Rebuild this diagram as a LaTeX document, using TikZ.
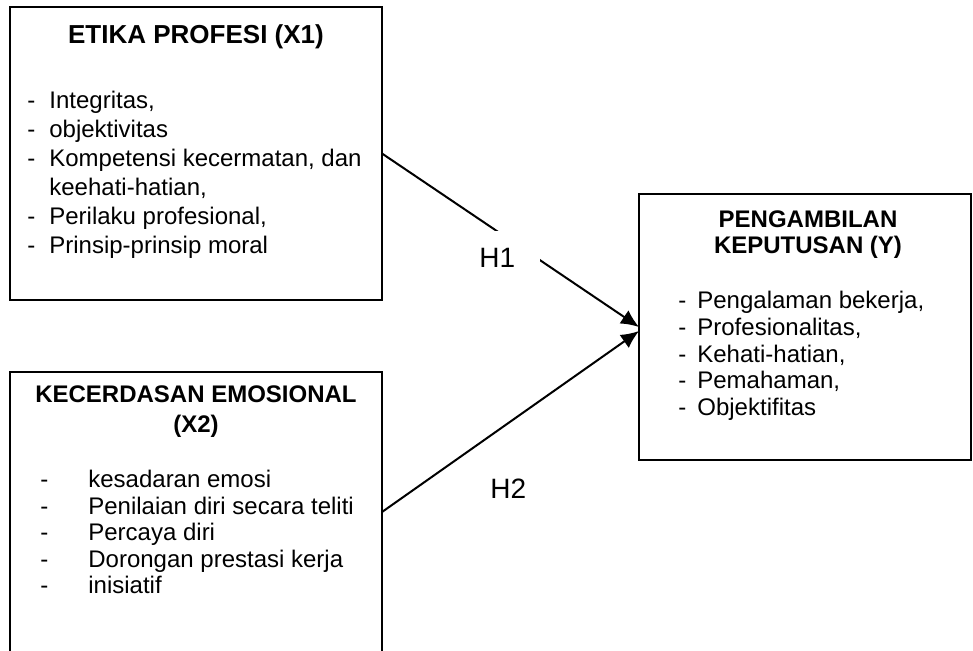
\documentclass[tikz,border=0pt]{standalone}
\usepackage{fontspec}
\setmainfont{Liberation Sans}
\usetikzlibrary{arrows.meta,calc,fit}
\begin{document}
\begin{tikzpicture}[x=0.5pt,y=-0.5pt,
  box/.style={draw,line width=1pt,rectangle,inner sep=0,outer sep=0},
  ttl/.style={font=\fontsize{12}{14}\selectfont\bfseries,anchor=base,inner sep=0},
  itm/.style={font=\fontsize{12}{14}\selectfont,anchor=base west,inner sep=0},
  hlab/.style={font=\fontsize{14}{16}\selectfont,anchor=base west,inner sep=0},
  conn/.style={line width=1pt,-{Latex[length=9pt,width=8pt]}}]
\useasboundingbox (0,0) rectangle (973,650);
\clip (0,0) rectangle (973,650);
% boxes
\node[box,fit={(10,7) (382,300)}] (x1) {};
\node[box,fit={(10,372) (382,652)}] (x2) {};
\node[box,fit={(639,194) (971,460)}] (y) {};
% X1 content
\node[ttl,font=\fontsize{13}{15}\selectfont\bfseries] (x1t) at (196,43) {ETIKA PROFESI (X1)};
\node[itm] (x1a) at (27,108) {\makebox[11pt][l]{-}Integritas,};
\node[itm] (x1b) at (27,137) {\makebox[11pt][l]{-}objektivitas};
\node[itm] (x1c) at (27,166) {\makebox[11pt][l]{-}Kompetensi kecermatan, dan};
\node[itm] (x1d) at (27,195) {\makebox[11pt][l]{}keehati-hatian,};
\node[itm] (x1e) at (27,224) {\makebox[11pt][l]{-}Perilaku profesional,};
\node[itm] (x1f) at (27,253) {\makebox[11pt][l]{-}Prinsip-prinsip moral};
% X2 content
\node[ttl] (x2t) at (196,402) {KECERDASAN EMOSIONAL};
\node[ttl] (x2u) at (196,432) {(X2)};
\node[itm] (x2a) at (40,487) {\makebox[24pt][l]{-}kesadaran emosi};
\node[itm] (x2b) at (40,514) {\makebox[24pt][l]{-}Penilaian diri secara teliti};
\node[itm] (x2c) at (40,540) {\makebox[24pt][l]{-}Percaya diri};
\node[itm] (x2d) at (40,567) {\makebox[24pt][l]{-}Dorongan prestasi kerja};
\node[itm] (x2e) at (40,593) {\makebox[24pt][l]{-}inisiatif};
% Y content
\node[ttl] (yt) at (808,227) {PENGAMBILAN};
\node[ttl] (yu) at (808,253) {KEPUTUSAN (Y)};
\node[itm] (ya) at (678,308) {\makebox[9.5pt][l]{-}Pengalaman bekerja,};
\node[itm] (yb) at (678,335) {\makebox[9.5pt][l]{-}Profesionalitas,};
\node[itm] (yc) at (678,362) {\makebox[9.5pt][l]{-}Kehati-hatian,};
\node[itm] (yd) at (678,388) {\makebox[9.5pt][l]{-}Pemahaman,};
\node[itm] (ye) at (678,415) {\makebox[9.5pt][l]{-}Objektifitas};
% connectors
\draw[conn] (x1.east) -- (y.west);
\draw[conn] (x2.east) -- ($(y.west)+(0,4)$);
% labels
\node[fill=white,inner sep=0,outer sep=0,fit={(477,230.5) (540,290)}] (h1cover) {};
\node[hlab] (h1) at (479,267) {H1};
\node[hlab] (h2) at (490,498) {H2};
\end{tikzpicture}
\end{document}
